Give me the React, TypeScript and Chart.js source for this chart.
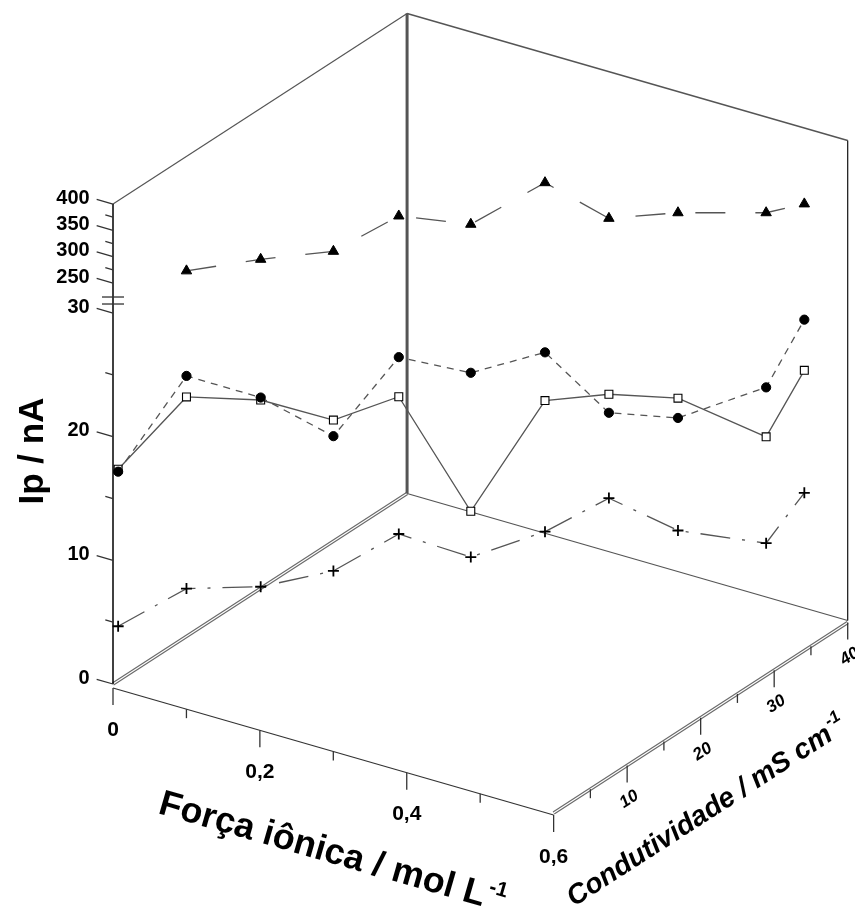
import React, { useEffect, useRef } from 'react';
import { Chart, registerables } from 'chart.js';

Chart.register(...registerables);

// ---- data ----
const forcaIonica = [0, 0.06, 0.12, 0.18, 0.24, 0.3, 0.36, 0.42, 0.48, 0.56, 0.6]; // mol L-1
const condutividade = [0.7, 4.0, 8.1, 12.0, 14.9, 18.7, 22.8, 25.5, 28.9, 32.9, 34.1]; // mS cm-1
const ipTriangulos: (number | null)[] = [null, 261, 270, 274, 339, 313, 379, 311, 315, 311, 333];
const ipCirculos = [16.9, 24.4, 22.1, 18.5, 24.8, 23.1, 24.2, 19.3, 18.6, 20.9, 26.6];
const ipQuadrados = [17.1, 22.7, 21.9, 19.8, 21.6, 11.9, 20.3, 20.8, 20.2, 16.9, 22.5];
const ipCruzes = [4.4, 7.2, 6.8, 7.6, 10.5, 8.2, 9.7, 12.4, 9.5, 8.3, 12.6];

// ---- axis ticks ----
const ipTicksMaiores = [0, 10, 20, 30, 250, 300, 350, 400];
const ipTicksMenores = [5, 15, 25, 275, 325, 375];
const forcaTicks = [0, 0.1, 0.2, 0.3, 0.4, 0.5, 0.6];
const forcaRotulos = ['0', '', '0,2', '', '0,4', '', '0,6'];
const condTicks = [5, 10, 15, 20, 25, 30, 35, 40];
const condRotulos = ['', '10', '', '20', '', '30', '', '40'];

// ---- projection / broken axis ----
const I_MAX = 0.6;
const K_MAX = 40;
const PX_UNIT = 480 / 38.815; // px per lower unit
const GAP = 30 / PX_UNIT;
const UP = 79 / 150 / PX_UNIT;
const ipToV = (ip: number) => (ip <= 30 ? ip : 30 + GAP + (ip - 250) * UP);
const V_MAX = ipToV(400);
const Y_TOP = 674 / PX_UNIT; // plotting room up to the top of the back wall
const IONIC_U = 442 / 737;
const COND_U = 295 / 737;
const IONIC_V = -127 / PX_UNIT;
const COND_V = 190.5 / PX_UNIT;
const project = (I: number, k: number, v: number) => ({
  x: (IONIC_U * I) / I_MAX + (COND_U * k) / K_MAX,
  y: v + (IONIC_V * I) / I_MAX + (COND_V * k) / K_MAX,
});
const pontos = (ips: (number | null)[]) =>
  ips
    .map((ip, i) => (ip == null ? null : project(forcaIonica[i], condutividade[i], ipToV(ip))))
    .filter((p) => p !== null) as { x: number; y: number }[];

const FONT = "'Liberation Sans', Arial, Helvetica, sans-serif";

const framePlugin = {
  id: 'frame3d',
  beforeDatasetsDraw(chart: any) {
    const ctx: CanvasRenderingContext2D = chart.ctx;
    const xs = chart.scales.x;
    const ys = chart.scales.y;
    const P = (I: number, k: number, v: number): [number, number] => {
      const p = project(I, k, v);
      return [xs.getPixelForValue(p.x), ys.getPixelForValue(p.y)];
    };
    const line = (a: [number, number], b: [number, number], color: string, w: number, dy = 0) => {
      ctx.beginPath();
      ctx.strokeStyle = color;
      ctx.lineWidth = w;
      ctx.moveTo(a[0], a[1] + dy);
      ctx.lineTo(b[0], b[1] + dy);
      ctx.stroke();
    };
    const dbl = (a: [number, number], b: [number, number], dy = 0) => {
      line(a, b, '#6a6a6a', 3.4, dy);
      line(a, b, '#ffffff', 1.1, dy);
    };
    ctx.save();
    ctx.lineCap = 'butt';
    // walls & floor
    dbl(P(0, 0, 0), P(0, K_MAX, 0));
    line(P(0, K_MAX, 0), P(I_MAX, K_MAX, 0), '#555', 1.3);
    line(P(0, 0, V_MAX), P(0, K_MAX, V_MAX), '#555', 1.2);
    line(P(0, K_MAX, V_MAX), P(I_MAX, K_MAX, V_MAX), '#555', 1.5);
    line(P(0, K_MAX, 0), P(0, K_MAX, V_MAX), '#555', 3);
    line(P(I_MAX, K_MAX, 0), P(I_MAX, K_MAX, V_MAX), '#111', 1.2);

    // Ip axis
    line(P(0, 0, 0), P(0, 0, V_MAX), '#000', 1.5);
    const ang = Math.atan2(127, 442);
    const tx = -Math.cos(ang);
    const tyy = -Math.sin(ang);
    ctx.font = `bold 20px ${FONT}`;
    ctx.fillStyle = '#000';
    ctx.textAlign = 'right';
    ctx.textBaseline = 'middle';
    ipTicksMaiores.forEach((t) => {
      const a = P(0, 0, ipToV(t));
      const b: [number, number] = [a[0] + tx * 17, a[1] + tyy * 17];
      line(a, b, '#333', 1.3);
      ctx.fillText(String(t), b[0] - 7, b[1] - 1);
    });
    ipTicksMenores.forEach((t) => {
      const a = P(0, 0, ipToV(t));
      line(a, [a[0] + tx * 8, a[1] + tyy * 8], '#333', 1.3);
    });
    // break marks
    const b30 = P(0, 0, 30);
    line([b30[0] - 11, b30[1] - 9], [b30[0] + 11, b30[1] - 9], '#333', 1.3);
    line([b30[0] - 11, b30[1] - 16], [b30[0] + 11, b30[1] - 16], '#333', 1.3);

    // Ionic strength axis (front)
    line(P(0, 0, 0), P(I_MAX, 0, 0), '#333', 1.3, 4);
    ctx.font = `bold 21px ${FONT}`;
    ctx.textAlign = 'center';
    forcaTicks.forEach((t, n) => {
      const a = P(t, 0, 0);
      const len = forcaRotulos[n] ? 17 : 9;
      line([a[0], a[1] + 4], [a[0], a[1] + 4 + len], '#333', 1.3);
      if (forcaRotulos[n]) ctx.fillText(forcaRotulos[n], a[0], a[1] + 46);
    });

    // Conductivity axis
    dbl(P(I_MAX, 0, 0), P(I_MAX, K_MAX, 0), 2);
    const cang = Math.atan2(-190.5, 295);
    condTicks.forEach((t, n) => {
      const a = P(I_MAX, t, 0);
      const len = condRotulos[n] ? 17 : 9;
      line([a[0], a[1] + 2], [a[0], a[1] + 2 + len], '#333', 1.3);
      if (condRotulos[n]) {
        ctx.save();
        ctx.translate(a[0] + 2, a[1] + 36);
        ctx.rotate(cang);
        ctx.font = `italic bold 17px ${FONT}`;
        ctx.textAlign = 'center';
        ctx.textBaseline = 'middle';
        ctx.fillText(condRotulos[n], 0, 0);
        ctx.restore();
      }
    });

    // titles
    ctx.save();
    ctx.translate(33, 451);
    ctx.rotate(-Math.PI / 2);
    ctx.font = `bold 35px ${FONT}`;
    ctx.textAlign = 'center';
    ctx.textBaseline = 'middle';
    ctx.fillText('Ip / nA', 0, 0);
    ctx.restore();

    ctx.save();
    ctx.translate(157, 813);
    ctx.rotate(ang);
    ctx.font = `bold 36px ${FONT}`;
    ctx.textAlign = 'left';
    ctx.textBaseline = 'alphabetic';
    const t1 = 'Força iônica / mol L';
    ctx.fillText(t1, 0, 0);
    const w1 = ctx.measureText(t1).width;
    ctx.font = `bold 21px ${FONT}`;
    ctx.fillText('-1', w1 + 2, -15);
    ctx.restore();

    ctx.save();
    ctx.translate(574, 907);
    ctx.rotate(cang);
    ctx.font = `italic bold 28px ${FONT}`;
    ctx.textAlign = 'left';
    ctx.textBaseline = 'alphabetic';
    const t2 = 'Condutividade / mS cm';
    ctx.fillText(t2, 0, 0);
    const w2 = ctx.measureText(t2).width;
    ctx.font = `italic bold 17px ${FONT}`;
    ctx.fillText('-1', w2 + 2, -13);
    ctx.restore();

    ctx.restore();
  },
};

export default function App() {
  const ref = useRef<HTMLCanvasElement | null>(null);
  useEffect(() => {
    if (!ref.current) return;
    const lineColor = '#555';
    const chart = new Chart(ref.current, {
      type: 'scatter',
      data: {
        datasets: [
          {
            label: 'triângulos',
            data: pontos(ipTriangulos),
            showLine: true,
            borderColor: lineColor,
            borderWidth: 1.3,
            borderDash: [30, 30],
            pointStyle: 'triangle',
            pointRadius: 6,
            pointBackgroundColor: '#000',
            pointBorderColor: '#000',
            pointBorderWidth: 1,
            clip: false,
          } as any,
          {
            label: 'círculos',
            data: pontos(ipCirculos),
            showLine: true,
            borderColor: lineColor,
            borderWidth: 1.3,
            borderDash: [7, 6],
            pointStyle: 'circle',
            pointRadius: 4.6,
            pointBackgroundColor: '#000',
            pointBorderColor: '#000',
            pointBorderWidth: 1,
            clip: false,
          } as any,
          {
            label: 'quadrados',
            data: pontos(ipQuadrados),
            showLine: true,
            borderColor: lineColor,
            borderWidth: 1.3,
            pointStyle: 'rect',
            pointRadius: 5.6,
            pointBackgroundColor: '#fff',
            pointBorderColor: '#000',
            pointBorderWidth: 1.1,
            clip: false,
          } as any,
          {
            label: 'cruzes',
            data: pontos(ipCruzes),
            showLine: true,
            borderColor: lineColor,
            borderWidth: 1.3,
            borderDash: [30, 12, 3, 12],
            pointStyle: 'cross',
            pointRadius: 5.5,
            pointBorderColor: '#000',
            pointBorderWidth: 1.8,
            clip: false,
          } as any,
        ],
      },
      options: {
        animation: false,
        responsive: false,
        devicePixelRatio: 1,
        events: [],
        layout: { padding: { left: 113, right: 5, top: 10, bottom: 225 } },
        plugins: { legend: { display: false }, tooltip: { enabled: false }, title: { display: false } },
        scales: {
          x: { type: 'linear', display: false, min: 0, max: 1 },
          y: { type: 'linear', display: false, min: 0, max: Y_TOP },
        },
      },
      plugins: [framePlugin],
    });
    return () => chart.destroy();
  }, []);
  return (
    <div style={{ position: 'fixed', left: 0, top: 0, width: 855, height: 909, background: '#fff' }}>
      <canvas ref={ref} width={855} height={909} style={{ display: 'block' }} />
    </div>
  );
}
